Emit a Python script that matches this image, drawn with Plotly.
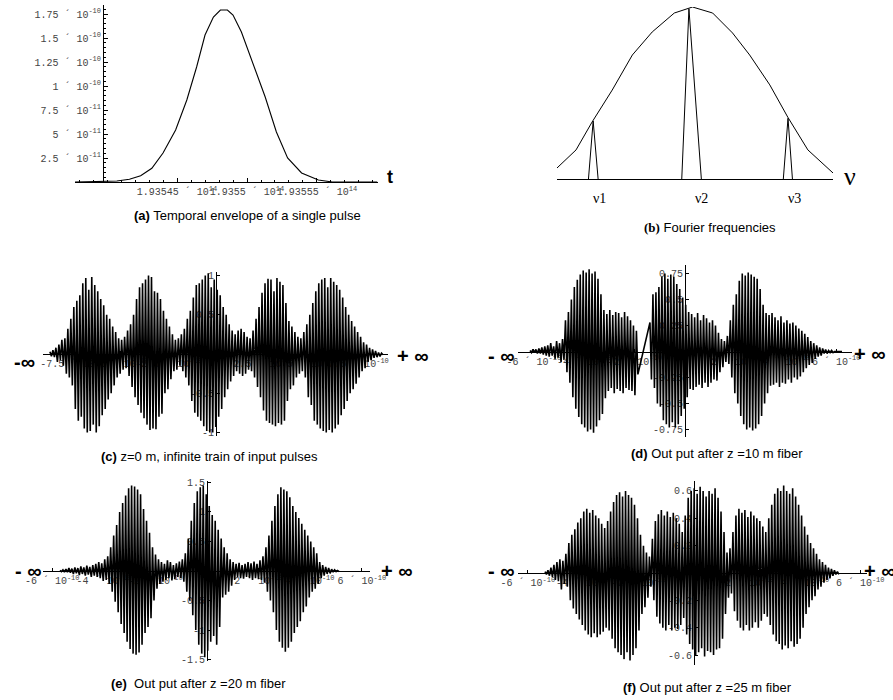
import numpy as np
import plotly.graph_objects as go

W, H = 893, 700


def px(x):
    return x / W


def py(y):
    return 1 - y / H


# ---------------- (a) temporal envelope of a single pulse ----------------
A_T = [1.935377e14, 1.935407e14, 1.935416e14, 1.935424e14, 1.935432e14, 1.935440e14,
       1.935449e14, 1.935457e14, 1.935464e14, 1.935470e14, 1.935476e14, 1.935481e14,
       1.935486e14, 1.935490e14, 1.935496e14, 1.935504e14, 1.935513e14, 1.935521e14,
       1.935529e14, 1.935539e14, 1.935551e14, 1.935561e14, 1.935593e14]
A_AMP = [0, 0.10e-11, 0.28e-11, 0.66e-11, 1.43e-11, 3.02e-11, 5.42e-11, 8.54e-11,
         11.98e-11, 15.31e-11, 17.19e-11, 17.92e-11, 17.92e-11, 17.40e-11, 15.63e-11,
         12.5e-11, 8.85e-11, 5.21e-11, 2.50e-11, 0.94e-11, 0.21e-11, 0, 0]
A_XTICKS = [1.93545e14, 1.9355e14, 1.93555e14]
A_XTICK_MANT = ["1.93545", "1.9355", "1.93555"]
A_YTICKS = [2.5e-11, 5e-11, 7.5e-11, 1e-10, 1.25e-10, 1.5e-10, 1.75e-10]
A_YTICK_MANT = ["2.5", "5", "7.5", "1", "1.25", "1.5", "1.75"]
A_YTICK_EXP = ["-11", "-11", "-11", "-10", "-10", "-10", "-10"]

# ---------------- (b) Fourier frequencies (schematic) ----------------
B_NU = [0, 6.9, 12.7, 20, 27.3, 34.5, 42.5, 49.1, 56.4, 63.6, 69.8, 77.1, 83.6, 90.9, 100]
B_AMP = [0.064, 0.169, 0.331, 0.517, 0.721, 0.855, 0.965, 1.0, 0.965, 0.849, 0.721,
         0.547, 0.36, 0.169, 0.035]
B_SPIKE_LEFT = [11.4, 45.2, 82.0]
B_SPIKE_TOP = [13.1, 47.8, 83.7]
B_SPIKE_RIGHT = [14.9, 52.3, 85.3]
B_SPIKE_HEIGHT = [0.337, 0.99, 0.353]
B_LABELS = ["ν1", "ν2", "ν3"]

# ---------------- (c) z = 0 m, input pulse train ----------------
C_SPAN = (-8.74e-10, 8.79e-10)
C_VALUES = [
    .03, -.03, .05, -.04, .08, -.1, .12, -.08, .18, -.15, .2, -.25, .32, -.3, .45, -.4, .6, -.7, .68, -.85,
    .75, -.8, .9, -.95, .97, -1.0, .82, -.98, .98, -.9, .88, -1.0, .8, -.92, .7, -.78, .62, -.7, .5, -.58,
    .45, -.5, .35, -.4, .28, -.3, .2, -.25, .18, -.2, .22, -.18, .3, -.28, .38, -.42, .5, -.55, .7, -.65,
    .85, -.75, .9, -.82, .95, -.9, 1.0, -.97, .98, -.95, .8, -.96, .78, -.8, .7, -.76, .55, -.5, .45, -.45,
    .35, -.32, .25, -.22, .18, -.2, .2, -.15, .25, -.22, .32, -.3, .45, -.4, .55, -.6, .72, -.75, .88, -.8,
    .9, -.85, .95, -.92, 1.0, -.98, 1.03, -1.0, .85, -1.0, .95, -.93, .82, -.8, .75, -.7, .6, -.55, .5, -.45,
    .38, -.35, .3, -.28, .25, -.22, .3, -.25, .32, -.28, .28, -.25, .22, -.2, .2, -.22, .3, -.3, .45, -.42,
    .6, -.55, .78, -.72, .9, -.85, .96, -.88, .95, -.9, .8, -.92, .97, -.88, .92, -.9, .88, -.85, .65, -.6,
    .42, -.45, .35, -.4, .28, -.3, .22, -.25, .2, -.22, .28, -.3, .38, -.55, .5, -.65, .65, -.85, .8, -.9,
    .9, -.95, .95, -.98, .97, -1.0, .85, -.97, .97, -1.0, .92, -.95, .88, -.9, .82, -.78, .72, -.7, .6, -.6,
    .5, -.5, .42, -.45, .35, -.38, .28, -.3, .22, -.22, .15, -.18, .12, -.1, .08, -.08, .06, -.05, .04, -.04,
    .02, -.03, .01, -.01,
]

# ---------------- (d) after z = 10 m ----------------
D_SPAN_1 = (-6.15e-10, -1.87e-10)
D_VALUES_1 = [
    .01, -.01, .02, -.01, .02, -.02, .03, -.02, .04, -.03, .05, -.04,
    .06, -.05, .08, -.04, .05, -.07, .1, -.06, .08, -.1, .12, -.08,
    .3, -.2, .38, -.3, .5, -.44, .62, -.55, .69, -.63, .74, -.7, .78, -.73, .76, -.77, .79, -.75, .75, -.78,
    .77, -.72, .7, -.66, .55, -.6, .4, -.45, .36, -.38, .4, -.35, .35, -.4, .38, -.36, .37, -.38, .33, -.4,
    .38, -.35, .34, -.37, .3, -.38, .25, -.42, .2, -.22,
]
D_SPAN_2 = (-1.39e-10, 6.23e-10)
D_VALUES_2 = [
    .28, -.27, .55, -.35, .57, -.5, .62, -.53, .72, -.66, .75, -.7, .7, -.73, .74, -.68, .72, -.73, .65, -.7,
    .6, -.62, .52, -.55, .45, -.44, .38, -.36, .36, -.37, .33, -.34, .37, -.32, .3, -.35, .35, -.3, .32, -.34,
    .28, -.3, .3, -.27, .25, -.28, .18, -.2, .12, -.15, .1, -.1, .15, -.12, .3, -.25, .45, -.4, .55, -.5,
    .68, -.62, .75, -.7, .73, -.75, .76, -.73, .74, -.76, .72, -.74, .7, -.7, .6, -.62, .45, -.5, .37, -.4,
    .35, -.33, .37, -.32, .33, -.3, .3, -.34, .34, -.3, .28, -.31, .3, -.27, .27, -.3, .28, -.25, .25, -.27,
    .22, -.24, .2, -.2, .17, -.16, .14, -.13, .1, -.11, .08, -.07, .06, -.05, .04, -.04, .03, -.02, .02, -.02,
    .01, -.01, .01, -.01, 0, 0, 0, 0, 0, 0,
]

# ---------------- (e) after z = 20 m ----------------
E_SPAN = (-5.7e-10, 5.12e-10)
E_VALUES = [
    .01, -.01, .02, -.02, .03, -.02, .05, -.03, .04, -.05, .06, -.04, .05, -.07, .08, -.05, .06, -.08, .09, -.06,
    .07, -.1, .1, -.08, .12, -.1, .15, -.12, .13, -.17, .2, -.15, .25, -.22, .4, -.35, .6, -.52, .78, -.7,
    1.0, -.9, 1.15, -1.05, 1.28, -1.2, 1.4, -1.32, 1.45, -1.4, 1.43, -1.42, 1.38, -1.38, 1.3, -1.25, 1.05, -1.05, .85, -.95,
    .65, -.8, .4, -.5, .28, -.3, .2, -.22, .15, -.18, .12, -.15, .18, -.12, .15, -.16, .1, -.14, .13, -.1,
    .16, -.12, .2, -.18, .3, -.35, .55, -.5, .85, -.75, 1.15, -1.0, 1.35, -1.25, 1.42, -1.4, 1.45, -1.46, 1.3, -1.35,
    1.1, -1.2, .95, -1.1, .85, -1.25, .7, -.95, .55, -.45, .4, -.4, .3, -.35, .2, -.25, .15, -.15, .12, -.1,
    .14, -.12, .1, -.13, .12, -.1, .15, -.12, .13, -.15, .16, -.12, .12, -.14, .18, -.15, .25, -.2, .4, -.35,
    .6, -.5, .85, -.7, 1.1, -1.0, 1.3, -1.2, 1.42, -1.3, 1.38, -1.37, 1.35, -1.3, 1.25, -1.2, 1.1, -1.05, 1.0, -.95,
    .9, -.85, .8, -.7, .7, -.6, .6, -.45, .5, -.35, .4, -.3, .3, -.22, .15, -.12, .1, -.08, .07, -.05,
    .05, -.04, .03, -.02, .02, -.01, .01, -.01,
]

# ---------------- (f) after z = 25 m ----------------
F_SPAN = (-5.38e-10, 5.23e-10)
F_VALUES = [
    .01, -.01, .02, -.02, .04, -.03, .06, -.05, .08, -.06, .1, -.12, .09, -.08, .14, -.1, .22, -.2, .28, -.26,
    .32, -.3, .37, -.34, .4, -.38, .45, -.42, .47, -.45, .44, -.47, .46, -.44, .42, -.47, .4, -.45, .36, -.43,
    .33, -.4, .38, -.42, .45, -.48, .52, -.55, .57, -.58, .59, -.6, .56, -.63, .6, -.58, .57, -.64, .55, -.6,
    .5, -.55, .4, -.42, .28, -.3, .2, -.25, .15, -.18, .12, -.1, .25, -.2, .38, -.32, .43, -.37, .46, -.4,
    .42, -.42, .45, -.38, .41, -.42, .44, -.4, .4, -.41, .36, -.38, .3, -.33, .42, -.45, .55, -.52, .6, -.56,
    .62, -.6, .58, -.58, .63, -.55, .6, -.61, .56, -.57, .6, -.58, .58, -.6, .62, -.56, .55, -.55, .45, -.48,
    .3, -.3, .15, -.18, .18, -.15, .3, -.28, .42, -.35, .47, -.4, .44, -.42, .46, -.38, .41, -.42, .45, -.4,
    .42, -.36, .4, -.4, .38, -.35, .34, -.3, .3, -.32, .4, -.38, .5, -.45, .58, -.5, .62, -.52, .6, -.56,
    .64, -.53, .6, -.55, .58, -.5, .62, -.54, .56, -.52, .5, -.48, .42, -.4, .34, -.3, .28, -.25, .22, -.2,
    .18, -.17, .14, -.12, .1, -.1, .08, -.07, .06, -.05, .04, -.04, .03, -.02, .02, -.01, .01, -.01,
]

TICK_FONT = dict(family="Liberation Mono, Courier New, monospace", size=10, color="#444")
CAP_FONT = dict(family="Liberation Sans, Arial, sans-serif", size=13, color="black")


def sci(m, e):
    return f"{m} ´ 10<sup>{e}</sup>"


def wave(span, values):
    return np.linspace(span[0], span[1], len(values)), np.array(values)


fig = go.Figure()

# (a)
fig.add_trace(go.Scatter(x=A_T, y=A_AMP, mode="lines", line=dict(color="black", width=1.1),
                         xaxis="x", yaxis="y", hoverinfo="skip"))

# (b)
fig.add_trace(go.Scatter(x=B_NU, y=B_AMP, mode="lines", line=dict(color="black", width=1),
                         xaxis="x2", yaxis="y2", hoverinfo="skip"))
for l, t, r, h in zip(B_SPIKE_LEFT, B_SPIKE_TOP, B_SPIKE_RIGHT, B_SPIKE_HEIGHT):
    fig.add_trace(go.Scatter(x=[l, t, r], y=[0, h, 0], mode="lines",
                             line=dict(color="black", width=1), xaxis="x2", yaxis="y2",
                             hoverinfo="skip"))

# (c)-(f)
cx, cy = wave(C_SPAN, C_VALUES)
d1x, d1y = wave(D_SPAN_1, D_VALUES_1)
d2x, d2y = wave(D_SPAN_2, D_VALUES_2)
ex, ey = wave(E_SPAN, E_VALUES)
fx, fy = wave(F_SPAN, F_VALUES)
for (xx, yy, xa, ya) in [
    (cx, cy, "x3", "y3"),
    (np.concatenate([d1x, d2x]), np.concatenate([d1y, d2y]), "x4", "y4"),
    (ex, ey, "x5", "y5"),
    (fx, fy, "x6", "y6"),
]:
    fig.add_trace(go.Scatter(x=xx, y=yy, mode="lines", line=dict(color="black", width=1.6),
                             xaxis=xa, yaxis=ya, hoverinfo="skip"))

base_ax = dict(showgrid=False, zeroline=False, showline=True, linecolor="black", linewidth=1,
               ticks="inside", ticklen=4, tickcolor="black", tickfont=TICK_FONT, tickangle=0,
               automargin=False, fixedrange=True)

layout = dict(
    width=W, height=H, margin=dict(l=0, r=0, t=0, b=0, autoexpand=False),
    paper_bgcolor="white", plot_bgcolor="rgba(0,0,0,0)", showlegend=False,
    template="none", hovermode=False,
)

# (a) axes
layout["xaxis"] = dict(base_ax, domain=[px(75), px(378)], range=[1.9353771e14, 1.9355936e14],
                       anchor="y", tickmode="array", tickvals=A_XTICKS,
                       ticktext=[sci(m, "14") for m in A_XTICK_MANT],
                       minor=dict(ticks="inside", ticklen=2, dtick=1e9, tick0=1.9354e14,
                                  tickcolor="black", showgrid=False))
layout["yaxis"] = dict(base_ax, domain=[py(182), py(5)], range=[0, 1.844e-10], anchor="free",
                       position=px(103), tickmode="array", tickvals=A_YTICKS,
                       ticktext=[sci(m, e) for m, e in zip(A_YTICK_MANT, A_YTICK_EXP)],
                       minor=dict(ticks="inside", ticklen=2, dtick=5e-12, tick0=0,
                                  tickcolor="black", showgrid=False))

# (b) axes
layout["xaxis2"] = dict(domain=[px(557), px(833)], range=[0, 100], anchor="y2", showgrid=False,
                        zeroline=False, showline=True, linecolor="black", linewidth=1,
                        ticks="", showticklabels=False, automargin=False, fixedrange=True)
layout["yaxis2"] = dict(domain=[py(179), py(7)], range=[0, 1], anchor="x2", visible=False,
                        automargin=False, fixedrange=True)


def wave_axes(n, xdom, xrange, ypos_px, xtv, xtt, ydom, yrange, xpos_px, ytv):
    layout[f"xaxis{n}"] = dict(base_ax, domain=[px(xdom[0]), px(xdom[1])], range=xrange,
                               anchor="free", position=py(ypos_px), tickmode="array",
                               tickvals=xtv, ticktext=xtt, layer="below traces", ticklen=3)
    layout[f"yaxis{n}"] = dict(base_ax, domain=[py(ydom[1]), py(ydom[0])], range=yrange,
                               anchor="free", position=px(xpos_px), tickmode="array",
                               tickvals=ytv, ticktext=[f"{v:g}" for v in ytv],
                               layer="below traces", ticklen=3)


C_XT = [-7.5e-10, -5e-10, -2.5e-10, 2.5e-10, 5e-10, 7.5e-10]
C_XL = [sci(m, "-10") for m in ["-7.5", "-5", "-2.5", "2.5", "5", "7.5"]]
SIX_XT = [-6e-10, -4e-10, -2e-10, 2e-10, 4e-10, 6e-10]
SIX_XL = [sci(m, "-10") for m in ["-6", "-4", "-2", "2", "4", "6"]]

wave_axes(3, (43, 388), [-9.105e-10, 9.053e-10], 354, C_XT, C_XL,
          (272, 436), [-1.045, 1.045], 216, [-1, -0.5, 0.5, 1])
wave_axes(4, (518, 852), [-6.627e-10, 6.627e-10], 351.5, SIX_XT, SIX_XL,
          (265, 437), [-0.822, 0.832], 685, [-0.75, -0.5, -0.25, 0.25, 0.5, 0.75])
wave_axes(5, (43, 370), [-6.357e-10, 6.318e-10], 571, SIX_XT, SIX_XL,
          (481, 661), [-1.525, 1.525], 207, [-1.5, -1, -0.5, 0.5, 1, 1.5])
wave_axes(6, (518, 867), [-6.354e-10, 6.245e-10], 573, SIX_XT, SIX_XL,
          (481, 665), [-0.673, 0.673], 694, [-0.6, -0.4, -0.2, 0.2, 0.4, 0.6])

ann = []


def note(text, x, y, font, xanchor="center"):
    ann.append(dict(text=text, x=px(x), y=py(y), xref="paper", yref="paper", showarrow=False,
                    xanchor=xanchor, yanchor="middle", font=font))


note("<b>(a)</b> Temporal envelope of a single pulse", 247, 215, CAP_FONT)
note("<span style='font-family:Liberation Serif'><b>(b)</b></span> Fourier frequencies", 710, 227, CAP_FONT)
note("<b>(c)</b> z=0 m, infinite train of input pulses", 209, 456, CAP_FONT)
note("<b>(d)</b> Out put after z =10 m fiber", 717, 453, CAP_FONT)
note("<b>(e)</b>  Out put after z =20 m fiber", 198, 683, CAP_FONT)
note("<b>(f)</b> Out put after z =25 m fiber", 707, 687, CAP_FONT)

note("<b>t</b>", 390, 177, dict(family="Liberation Sans, Arial", size=18, color="black"))
SERIF = dict(family="Liberation Serif, Times New Roman, serif", size=14, color="black")
for lab, xc in zip(B_LABELS, [599, 701, 794]):
    note(lab, xc, 198, SERIF)
note("ν", 850, 176, dict(family="Liberation Serif, Times New Roman, serif", size=26, color="black"))

INF = dict(family="Liberation Sans, Arial", size=20, color="black")
note("<b>-∞</b>", 24, 362, INF)
note("<b>+ ∞</b>", 413, 356, INF)
note("<b>- ∞</b>", 501, 356, INF)
note("<b>+ ∞</b>", 870, 354, INF)
note("<b>- ∞</b>", 28, 571, INF)
note("<b>+ ∞</b>", 397, 571, INF)
note("<b>- ∞</b>", 501, 571, INF)
note("<b>+ ∞</b>", 862, 571, INF, xanchor="left")

layout["annotations"] = ann
fig.update_layout(**layout)
fig.write_html(
    "out.html",
    config={"displayModeBar": False, "staticPlot": True},
    post_script="document.body.style.margin='0';document.body.style.overflow='hidden';",
)
